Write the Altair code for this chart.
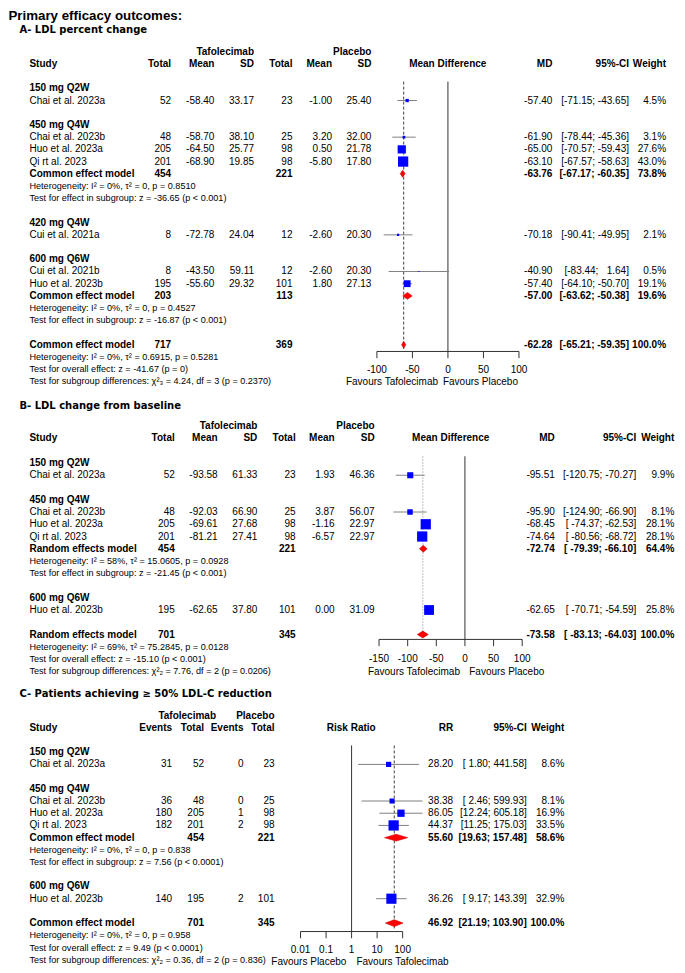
import altair as alt
import pandas as pd

# ======================= DATA =======================
MAIN_TITLE = "Primary efficacy outcomes:"

# ---- Panel A: LDL percent change (mean difference) ----
A_title = "A- LDL percent change"
A_groups = ["150 mg Q2W", "450 mg Q4W", "420 mg Q4W", "600 mg Q6W"]
A_group_rows = [3, 6, 14, 17]
A_study = ["Chai et al. 2023a", "Chai et al. 2023b", "Huo et al. 2023a", "Qi rt al. 2023",
           "Cui et al. 2021a", "Cui et al. 2021b", "Huo et al. 2023b"]
A_rows = [4, 7, 8, 9, 15, 18, 19]
A_t_total = [52, 48, 205, 201, 8, 8, 195]
A_t_mean = [-58.40, -58.70, -64.50, -68.90, -72.78, -43.50, -55.60]
A_t_sd = [33.17, 38.10, 25.77, 19.85, 24.04, 59.11, 29.32]
A_p_total = [23, 25, 98, 98, 12, 12, 101]
A_p_mean = [-1.00, 3.20, 0.50, -5.80, -2.60, -2.60, 1.80]
A_p_sd = [25.40, 32.00, 21.78, 17.80, 20.30, 20.30, 27.13]
A_md = [-57.40, -61.90, -65.00, -63.10, -70.18, -40.90, -57.40]
A_lo = [-71.15, -78.44, -70.57, -67.57, -90.41, -83.44, -64.10]
A_hi = [-43.65, -45.36, -59.43, -58.63, -49.95, 1.64, -50.70]
A_w = [4.5, 3.1, 27.6, 43.0, 2.1, 0.5, 19.1]
A_pool_label = ["Common effect model", "Common effect model", "Common effect model"]
A_pool_rows = [10, 20, 24]
A_pool_t_total = [454, 203, 717]
A_pool_p_total = [221, 113, 369]
A_pool_md = [-63.76, -57.00, -62.28]
A_pool_lo = [-67.17, -63.62, -65.21]
A_pool_hi = [-60.35, -50.38, -59.35]
A_pool_w = [73.8, 19.6, 100.0]
A_notes = ["Heterogeneity: I\u00b2 = 0%, \u03c4\u00b2 = 0, p = 0.8510",
           "Test for effect in subgroup: z = -36.65 (p < 0.001)",
           "Heterogeneity: I\u00b2 = 0%, \u03c4\u00b2 = 0, p = 0.4527",
           "Test for effect in subgroup: z = -16.87 (p < 0.001)",
           "Heterogeneity: I\u00b2 = 0%, \u03c4\u00b2 = 0.6915, p = 0.5281",
           "Test for overall effect: z = -41.67 (p = 0)",
           "Test for subgroup differences: \u03c7\u00b2\u2083 = 4.24, df = 3 (p = 0.2370)"]
A_note_rows = [11, 12, 21, 22, 25, 26, 27]
A_ticks = [-100, -50, 0, 50, 100]
A_null = 0

# ---- Panel B: LDL change from baseline (mean difference) ----
B_title = "B- LDL change from baseline"
B_groups = ["150 mg Q2W", "450 mg Q4W", "600 mg Q6W"]
B_group_rows = [3, 6, 14]
B_study = ["Chai et al. 2023a", "Chai et al. 2023b", "Huo et al. 2023a", "Qi rt al. 2023",
           "Huo et al. 2023b"]
B_rows = [4, 7, 8, 9, 15]
B_t_total = [52, 48, 205, 201, 195]
B_t_mean = [-93.58, -92.03, -69.61, -81.21, -62.65]
B_t_sd = [61.33, 66.90, 27.68, 27.41, 37.80]
B_p_total = [23, 25, 98, 98, 101]
B_p_mean = [1.93, 3.87, -1.16, -6.57, 0.00]
B_p_sd = [46.36, 56.07, 22.97, 22.97, 31.09]
B_md = [-95.51, -95.90, -68.45, -74.64, -62.65]
B_lo = [-120.75, -124.90, -74.37, -80.56, -70.71]
B_hi = [-70.27, -66.90, -62.53, -68.72, -54.59]
B_w = [9.9, 8.1, 28.1, 28.1, 25.8]
B_pool_label = ["Random effects model", "Random effects model"]
B_pool_rows = [10, 17]
B_pool_t_total = [454, 701]
B_pool_p_total = [221, 345]
B_pool_md = [-72.74, -73.58]
B_pool_lo = [-79.39, -83.13]
B_pool_hi = [-66.10, -64.03]
B_pool_w = [64.4, 100.0]
B_notes = ["Heterogeneity: I\u00b2 = 58%, \u03c4\u00b2 = 15.0605, p = 0.0928",
           "Test for effect in subgroup: z = -21.45 (p < 0.001)",
           "Heterogeneity: I\u00b2 = 69%, \u03c4\u00b2 = 75.2845, p = 0.0128",
           "Test for overall effect: z = -15.10 (p < 0.001)",
           "Test for subgroup differences: \u03c7\u00b2\u2082 = 7.76, df = 2 (p = 0.0206)"]
B_note_rows = [11, 12, 18, 19, 20]
B_ticks = [-150, -100, -50, 0, 50, 100]
B_null = 0

# ---- Panel C: patients achieving >= 50% LDL-C reduction (risk ratio) ----
C_title = "C- Patients achieving \u2265 50% LDL-C reduction"
C_groups = ["150 mg Q2W", "450 mg Q4W", "600 mg Q6W"]
C_group_rows = [3, 6, 14]
C_study = ["Chai et al. 2023a", "Chai et al. 2023b", "Huo et al. 2023a", "Qi rt al. 2023",
           "Huo et al. 2023b"]
C_rows = [4, 7, 8, 9, 15]
C_t_events = [31, 36, 180, 182, 140]
C_t_total = [52, 48, 205, 201, 195]
C_p_events = [0, 0, 1, 2, 2]
C_p_total = [23, 25, 98, 98, 101]
C_rr = [28.20, 38.38, 86.05, 44.37, 36.26]
C_lo = [1.80, 2.46, 12.24, 11.25, 9.17]
C_hi = [441.58, 599.93, 605.18, 175.03, 143.39]
C_w = [8.6, 8.1, 16.9, 33.5, 32.9]
C_pool_label = ["Common effect model", "Common effect model"]
C_pool_rows = [10, 17]
C_pool_t_total = [454, 701]
C_pool_p_total = [221, 345]
C_pool_rr = [55.60, 46.92]
C_pool_lo = [19.63, 21.19]
C_pool_hi = [157.48, 103.90]
C_pool_w = [58.6, 100.0]
C_notes = ["Heterogeneity: I\u00b2 = 0%, \u03c4\u00b2 = 0, p = 0.838",
           "Test for effect in subgroup: z = 7.56 (p < 0.0001)",
           "Heterogeneity: I\u00b2 = 0%, \u03c4\u00b2 = 0, p = 0.958",
           "Test for overall effect: z = 9.49 (p < 0.0001)",
           "Test for subgroup differences: \u03c7\u00b2\u2082 = 0.36, df = 2 (p = 0.836)"]
C_note_rows = [11, 12, 18, 19, 20]
C_ticks = [0.01, 0.1, 1, 10, 100]
C_null = 1

# ======================= LAYOUT / STYLE =======================
W, H = 667, 959
SX = W / 684.0
SY = H / 966.0


def X(px):
    return px * SX


def Y(py):
    return (py - 4.0) * SY


BODY = "Liberation Sans"
FS = 10.0
FS_SMALL = 9.1
NB = "\u00a0"

KINDS = {
    "l": dict(align="left", font=BODY, fontSize=FS),
    "lb": dict(align="left", font=BODY, fontSize=FS, fontWeight="bold"),
    "r": dict(align="right", font=BODY, fontSize=FS),
    "rb": dict(align="right", font=BODY, fontSize=FS, fontWeight="bold"),
    "cb": dict(align="center", font=BODY, fontSize=FS, fontWeight="bold"),
    "s": dict(align="left", font=BODY, fontSize=FS_SMALL),
    "t": dict(align="left", font="DejaVu Sans", fontSize=10, fontWeight="bold"),
    "m": dict(align="left", font=BODY, fontSize=13.3, fontWeight="bold"),
}

LX = alt.Scale(domain=[0, 684], range=[0, W], nice=False, zero=False)


def f2(v):
    return f"{v:.2f}"


def fint(v):
    return str(v)


PANELS = [
    dict(
        data=dict(title=A_title, arms=["Tafolecimab", "Placebo"],
                  col_headers=["Total", "Mean", "SD", "Total", "Mean", "SD"],
                  cols=[A_t_total, A_t_mean, A_t_sd, A_p_total, A_p_mean, A_p_sd],
                  fmts=[fint, f2, f2, fint, f2, f2],
                  effect_label="Mean Difference", est_label="MD",
                  groups=A_groups, group_rows=A_group_rows, study=A_study, rows=A_rows,
                  est=A_md, lo=A_lo, hi=A_hi, w=A_w,
                  pool_label=A_pool_label, pool_rows=A_pool_rows,
                  pool_totals=[A_pool_t_total, A_pool_p_total], pool_cols=[0, 3],
                  pool_est=A_pool_md, pool_lo=A_pool_lo, pool_hi=A_pool_hi, pool_w=A_pool_w,
                  notes=A_notes, note_rows=A_note_rows, ticks=A_ticks, null=A_null,
                  fav_left="Favours Tafolecimab", fav_right="Favours Placebo"),
        lay=dict(row0=48.0, step=12.3, rmin=-4, rmax=28, title_row=-1.81, title_x=11.7,
                 main_row=-2.95, study_x=22,
                 arm_x=[252.3, 372.7], col_x=[167.3, 211.7, 252.3, 291.7, 332.3, 372.7],
                 center_x=451, est_x=558.3, ci_x=636.8, w_x=674.8,
                 xtype="linear", xdomain=[-100, 100], xpx=[378.3, 524.0],
                 axis_row=24.55, label_row=26.1, fav_row=27.07,
                 fav_left_x=441, fav_right_x=446,
                 pool_dash=[3, 2], pool_color="#404040"),
    ),
    dict(
        data=dict(title=B_title, arms=["Tafolecimab", "Placebo"],
                  col_headers=["Total", "Mean", "SD", "Total", "Mean", "SD"],
                  cols=[B_t_total, B_t_mean, B_t_sd, B_p_total, B_p_mean, B_p_sd],
                  fmts=[fint, f2, f2, fint, f2, f2],
                  effect_label="Mean Difference", est_label="MD",
                  groups=B_groups, group_rows=B_group_rows, study=B_study, rows=B_rows,
                  est=B_md, lo=B_lo, hi=B_hi, w=B_w,
                  pool_label=B_pool_label, pool_rows=B_pool_rows,
                  pool_totals=[B_pool_t_total, B_pool_p_total], pool_cols=[0, 3],
                  pool_est=B_pool_md, pool_lo=B_pool_lo, pool_hi=B_pool_hi, pool_w=B_pool_w,
                  notes=B_notes, note_rows=B_note_rows, ticks=B_ticks, null=B_null,
                  fav_left="Favours Tafolecimab", fav_right="Favours Placebo"),
        lay=dict(row0=425.3, step=12.34, rmin=-3, rmax=21, title_row=-1.65, title_x=11.7,
                 study_x=22,
                 arm_x=[255.7, 376.0], col_x=[171.0, 215.0, 255.7, 295.0, 335.0, 376.0],
                 center_x=454, est_x=560.7, ci_x=644.3, w_x=683.3,
                 xtype="linear", xdomain=[-150, 100], xpx=[380.5, 527.3],
                 axis_row=17.4, label_row=19.0, fav_row=20.05,
                 fav_left_x=463.5, fav_right_x=473,
                 pool_dash=[1.5, 1.5], pool_color="#aaaaaa"),
    ),
    dict(
        data=dict(title=C_title, arms=["Tafolecimab", "Placebo"],
                  col_headers=["Events", "Total", "Events", "Total"],
                  cols=[C_t_events, C_t_total, C_p_events, C_p_total],
                  fmts=[fint, fint, fint, fint],
                  effect_label="Risk Ratio", est_label="RR",
                  groups=C_groups, group_rows=C_group_rows, study=C_study, rows=C_rows,
                  est=C_rr, lo=C_lo, hi=C_hi, w=C_w,
                  pool_label=C_pool_label, pool_rows=C_pool_rows,
                  pool_totals=[C_pool_t_total, C_pool_p_total], pool_cols=[1, 3],
                  pool_est=C_pool_rr, pool_lo=C_pool_lo, pool_hi=C_pool_hi, pool_w=C_pool_w,
                  notes=C_notes, note_rows=C_note_rows, ticks=C_ticks, null=C_null,
                  fav_left="Favours Placebo", fav_right="Favours Tafolecimab"),
        lay=dict(row0=716.7, step=12.3, rmin=-3, rmax=21, title_row=-1.76, title_x=11.7,
                 study_x=22,
                 arm_x=[213.3, 273.3], col_x=[168.3, 201.0, 241.5, 273.3],
                 center_x=352, est_x=456.5, ci_x=532.0, w_x=570.5,
                 xtype="log", xdomain=[0.01, 100], xpx=[300.0, 404.7],
                 axis_row=17.69, label_row=19.19, fav_row=20.19,
                 fav_left_x=347, fav_right_x=357.3,
                 pool_dash=[3, 2], pool_color="#404040"),
    ),
]

REF_TOP = 2.45
TICK_LEN = 0.55
DIA_H = 0.28
BOX_AREA = 105


def ci_str(lo, hi, wlo, whi):
    return "[" + f2(lo).rjust(wlo, NB) + ";" + NB + f2(hi).rjust(whi, NB) + "]"


def panel_texts(P, L, main=False):
    T = []

    def add(r, x, s, k):
        T.append({"row": r, "x": x, "text": s, "kind": k})

    if main:
        add(L["main_row"], 0.5, MAIN_TITLE, "m")
    add(L["title_row"], L["title_x"], P["title"], "t")
    for name, x in zip(P["arms"], L["arm_x"]):
        add(0, x, name, "rb")
    add(1, L["study_x"], "Study", "lb")
    for h, x in zip(P["col_headers"], L["col_x"]):
        add(1, x, h, "rb")
    add(1, L["center_x"], P["effect_label"], "cb")
    add(1, L["est_x"], P["est_label"], "rb")
    add(1, L["ci_x"], "95%-CI", "rb")
    add(1, L["w_x"], "Weight", "rb")
    for r, g in zip(P["group_rows"], P["groups"]):
        add(r, L["study_x"], g, "lb")
    wlo = max(len(f2(v)) for v in P["lo"] + P["pool_lo"])
    whi = max(len(f2(v)) for v in P["hi"] + P["pool_hi"])
    for i, r in enumerate(P["rows"]):
        add(r, L["study_x"], P["study"][i], "l")
        for col, fmt, x in zip(P["cols"], P["fmts"], L["col_x"]):
            add(r, x, fmt(col[i]), "r")
        add(r, L["est_x"], f2(P["est"][i]), "r")
        add(r, L["ci_x"], ci_str(P["lo"][i], P["hi"][i], wlo, whi), "r")
        add(r, L["w_x"], f"{P['w'][i]:.1f}%", "r")
    for i, r in enumerate(P["pool_rows"]):
        add(r, L["study_x"], P["pool_label"][i], "lb")
        for tot, ci in zip(P["pool_totals"], P["pool_cols"]):
            add(r, L["col_x"][ci], str(tot[i]), "rb")
        add(r, L["est_x"], f2(P["pool_est"][i]), "rb")
        add(r, L["ci_x"], ci_str(P["pool_lo"][i], P["pool_hi"][i], wlo, whi), "rb")
        add(r, L["w_x"], f"{P['pool_w'][i]:.1f}%", "rb")
    for r, s in zip(P["note_rows"], P["notes"]):
        add(r, L["study_x"], s, "s")
    add(L["fav_row"], L["fav_left_x"], P["fav_left"], "r")
    add(L["fav_row"], L["fav_right_x"], P["fav_right"], "l")
    return pd.DataFrame(T)


def panel_layers(P, L, main=False):
    layers = []
    ysc = alt.Scale(domain=[L["rmin"], L["rmax"]],
                    range=[Y(L["row0"] + L["step"] * L["rmin"]), Y(L["row0"] + L["step"] * L["rmax"])],
                    nice=False, zero=False)
    xsc = alt.Scale(type=L["xtype"], domain=L["xdomain"],
                    range=[X(L["xpx"][0]), X(L["xpx"][1])], nice=False, zero=False)

    def yenc(f):
        return alt.Y(f, scale=ysc, axis=None)

    def xenc(f):
        return alt.X(f, scale=xsc, axis=None)

    # text table
    tdf = panel_texts(P, L, main)
    for kind, props in KINDS.items():
        sub = tdf[tdf["kind"] == kind]
        if len(sub) == 0:
            continue
        layers.append(
            alt.Chart(sub).mark_text(baseline="middle", color="black", **props).encode(
                x=alt.X("x:Q", scale=LX, axis=None), y=yenc("row:Q"), text="text:N"))

    # reference lines
    ref_df = pd.DataFrame({"v": [P["null"]], "r1": [REF_TOP], "r2": [L["axis_row"]]})
    layers.append(alt.Chart(ref_df).mark_rule(color="#333333", strokeWidth=1).encode(
        x=xenc("v:Q"), y=yenc("r1:Q"), y2="r2:Q"))
    pool_df = pd.DataFrame({"v": [P["pool_est"][-1]], "r1": [REF_TOP], "r2": [L["axis_row"] - 0.2]})
    layers.append(alt.Chart(pool_df).mark_rule(color=L["pool_color"], strokeWidth=1,
                                               strokeDash=L["pool_dash"]).encode(
        x=xenc("v:Q"), y=yenc("r1:Q"), y2="r2:Q"))

    # study CIs and boxes
    est_df = pd.DataFrame({"row": P["rows"], "est": P["est"], "lo": P["lo"], "hi": P["hi"], "w": P["w"]})
    layers.append(alt.Chart(est_df).mark_rule(color="#808080", strokeWidth=1).encode(
        x=xenc("lo:Q"), x2="hi:Q", y=yenc("row:Q")))
    layers.append(alt.Chart(est_df).mark_square(color="#0000ff", opacity=1, filled=True).encode(
        x=xenc("est:Q"), y=yenc("row:Q"),
        size=alt.Size("w:Q", scale=alt.Scale(domain=[0, max(P["w"])], range=[0, BOX_AREA]),
                      legend=None)))

    # pooled diamonds
    recs = []
    for i, r in enumerate(P["pool_rows"]):
        recs.append({"id": i, "dx": P["pool_lo"][i], "y1": r, "y2": r})
        recs.append({"id": i, "dx": P["pool_est"][i], "y1": r - DIA_H, "y2": r + DIA_H})
        recs.append({"id": i, "dx": P["pool_hi"][i], "y1": r, "y2": r})
    dia_df = pd.DataFrame(recs)
    layers.append(alt.Chart(dia_df).mark_area(color="#ff0000", opacity=1, stroke="#d00000",
                                              strokeWidth=0.6).encode(
        x=xenc("dx:Q"), y=yenc("y1:Q"), y2="y2:Q", detail="id:N"))

    # axis drawn from tick values
    base_df = pd.DataFrame({"a": [P["ticks"][0]], "b": [P["ticks"][-1]], "row": [L["axis_row"]]})
    layers.append(alt.Chart(base_df).mark_rule(color="#333333", strokeWidth=1).encode(
        x=xenc("a:Q"), x2="b:Q", y=yenc("row:Q")))
    tick_df = pd.DataFrame({"t": P["ticks"], "r1": [L["axis_row"]] * len(P["ticks"]),
                            "r2": [L["axis_row"] + TICK_LEN] * len(P["ticks"]),
                            "lr": [L["label_row"]] * len(P["ticks"]),
                            "lab": [f"{t:g}" for t in P["ticks"]]})
    layers.append(alt.Chart(tick_df).mark_rule(color="#333333", strokeWidth=1).encode(
        x=xenc("t:Q"), y=yenc("r1:Q"), y2="r2:Q"))
    layers.append(alt.Chart(tick_df).mark_text(baseline="middle", align="center", font=BODY,
                                               fontSize=FS, color="black").encode(
        x=xenc("t:Q"), y=yenc("lr:Q"), text="lab:N"))
    return layers


all_layers = []
for k, p in enumerate(PANELS):
    all_layers += panel_layers(p["data"], p["lay"], main=(k == 0))

chart = alt.layer(*all_layers).resolve_scale(
    x="independent", y="independent", size="independent"
).properties(
    width=W, height=H, padding=0, autosize=alt.AutoSizeParams(type="none")
).configure_view(stroke=None)

chart.save("out.html", embed_options={"renderer": "svg", "actions": False})
